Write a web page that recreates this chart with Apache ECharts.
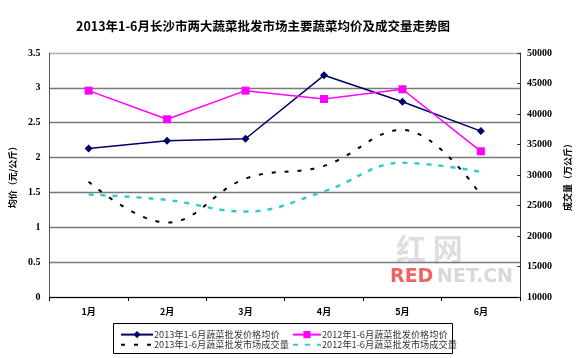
<!DOCTYPE html>
<html><head><meta charset="utf-8">
<script src="https://cdn.jsdelivr.net/npm/echarts@6/dist/echarts.min.js"></script>
<style>html,body{margin:0;padding:0;background:#fff}#c{width:580px;height:358px}</style>
</head><body><div id="c"></div>
<script>
var categories = ['1月','2月','3月','4月','5月','6月'];
var price2013 = [2.13, 2.24, 2.27, 3.18, 2.80, 2.38];
var price2012 = [2.96, 2.55, 2.96, 2.84, 2.98, 2.09];
var volume2013 = [28900, 22200, 29400, 31500, 37400, 26700];
var volume2012 = [26800, 25900, 24000, 27300, 32000, 30500];
var names = ['2013年1-6月蔬菜批发价格均价','2012年1-6月蔬菜批发价格均价','2013年1-6月蔬菜批发市场成交量','2012年1-6月蔬菜批发市场成交量'];

var chart = echarts.init(document.getElementById('c'), null, {renderer:'canvas'});
var numFont = "'Liberation Serif','Noto Sans CJK SC',serif";
var cjk = "'Noto Sans CJK SC',sans-serif";
chart.setOption({
  animation:false,
  backgroundColor:'#fff',
  title:{text:'2013年1-6月长沙市两大蔬菜批发市场主要蔬菜均价及成交量走势图',left:258,textAlign:'center',top:15,
    textStyle:{fontSize:12.5,fontWeight:'bold',color:'#000',fontFamily:cjk}},
  grid:{left:47,right:57,top:53,bottom:61},
  legend:[{
    data:[names[0],{name:names[2],itemStyle:{opacity:0}}],orient:'vertical',left:115,top:325,itemGap:1,itemWidth:32,itemHeight:9,
    textStyle:{fontSize:9.2,color:'#333',fontFamily:cjk,padding:[0,0,0,-4]}
  },{
    data:[names[1],{name:names[3],itemStyle:{opacity:0}}],orient:'vertical',left:287,top:325,itemGap:1,itemWidth:28,itemHeight:9,
    textStyle:{fontSize:9.2,color:'#333',fontFamily:cjk,padding:[0,0,0,-4]}
  }],
  graphic:[
    {type:'rect',shape:{x:113.5,y:323.5,width:339,height:30},style:{fill:'none',stroke:'#000',lineWidth:1},z:100},
    {type:'text',left:396,top:234,style:{text:'红 网',fontSize:30,fontWeight:'bold',fill:'rgba(160,160,160,0.35)',fontFamily:cjk}},
    {type:'text',left:390,top:268,style:{text:'RED',fontSize:19,fontWeight:'bold',fill:'rgba(235,60,60,0.8)',fontFamily:'DejaVu Sans'}},
    {type:'text',left:437,top:268,style:{text:'NET.CN',fontSize:19,fontWeight:'bold',fill:'rgba(190,190,190,0.6)',fontFamily:'DejaVu Sans'}}
  ],
  xAxis:{type:'category',data:categories,boundaryGap:true,
    axisLine:{lineStyle:{color:'#000',width:1}},
    axisTick:{show:true,alignWithLabel:false,length:4,lineStyle:{color:'#000'}},
    axisLabel:{fontSize:9,fontWeight:'bold',color:'#000',fontFamily:cjk,margin:10}},
  yAxis:[{
    type:'value',min:0,max:3.5,interval:0.5,position:'left',
    name:'均价（元/公斤）',nameLocation:'middle',nameGap:30,nameRotate:90,
    nameTextStyle:{fontSize:9,fontWeight:'bold',color:'#000',fontFamily:cjk},
    axisLine:{show:true,lineStyle:{color:'#555',width:1}},
    axisTick:{show:false},
    axisLabel:{fontSize:10,fontWeight:'bold',color:'#000',fontFamily:numFont,margin:9},
    splitLine:{lineStyle:{color:['#7a7a7a','#7a7a7a','#7a7a7a','#7a7a7a','#7a7a7a','#7a7a7a','#7a7a7a','#b0b0b0'],width:1.3}}
  },{
    type:'value',min:10000,max:50000,interval:5000,position:'right',
    name:'成交量（万公斤）',nameLocation:'middle',nameGap:42,nameRotate:90,
    nameTextStyle:{fontSize:9,fontWeight:'bold',color:'#000',fontFamily:cjk},
    axisLine:{show:true,lineStyle:{color:'#333',width:1}},
    axisTick:{show:true,inside:true,length:3,lineStyle:{color:'#333'}},
    axisLabel:{fontSize:10,fontWeight:'bold',color:'#000',fontFamily:numFont,margin:7,formatter:function(v){return String(v);}},
    splitLine:{show:false}
  }],
  series:[
    {name:names[0],type:'line',yAxisIndex:0,data:price2013,symbol:'diamond',symbolSize:8,
      lineStyle:{color:'#000066',width:1.5},itemStyle:{color:'#000066'}},
    {name:names[1],type:'line',yAxisIndex:0,data:price2012,symbol:'rect',symbolSize:8,
      lineStyle:{color:'#ff00ff',width:1.5},itemStyle:{color:'#ff00ff'}},
    {name:names[2],type:'line',yAxisIndex:1,data:volume2013,smooth:0.4,symbol:'none',
      lineStyle:{color:'#000',width:2,type:[4,9]},itemStyle:{color:'#000'}},
    {name:names[3],type:'line',yAxisIndex:1,data:volume2012,smooth:0.4,symbol:'none',
      lineStyle:{color:'#33cccc',width:2.5,type:[5,7]},itemStyle:{color:'#33cccc'}}
  ]
});
</script></body></html>
